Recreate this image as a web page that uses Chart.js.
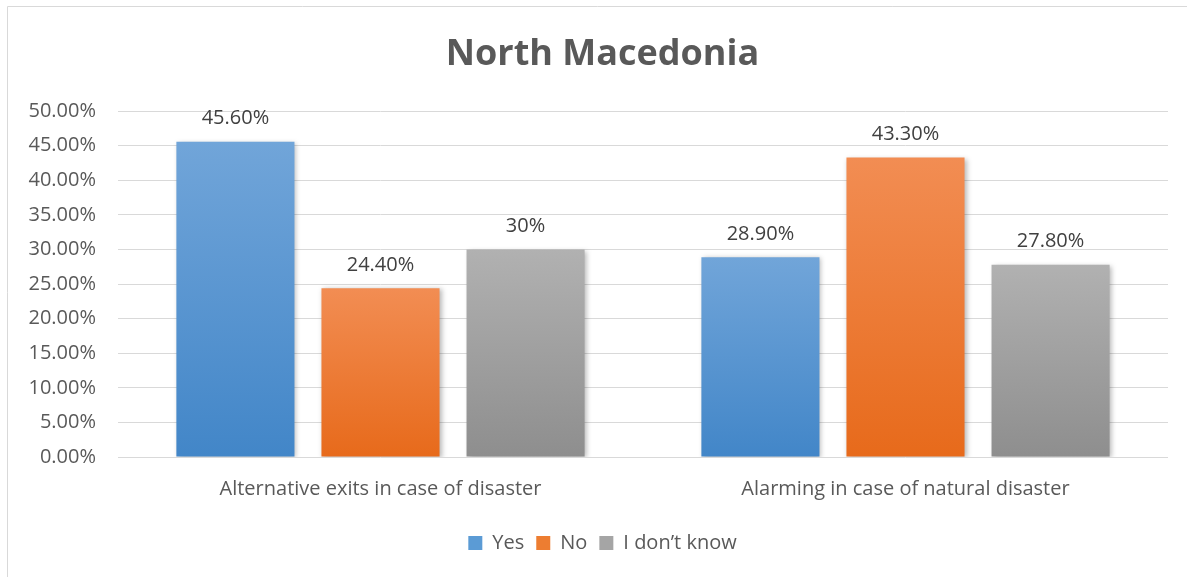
<!DOCTYPE html>
<html>
<head>
<meta charset="utf-8">
<script src="https://cdn.jsdelivr.net/npm/chart.js@4.4.1/dist/chart.umd.min.js"></script>
<style>
  html, body { margin: 0; padding: 0; background: #fff; }
  #wrap { position: relative; width: 1187px; height: 577px; }
</style>
</head>
<body>
<div id="wrap"><canvas id="chart"></canvas></div>
<script>
const categories = ["Alternative exits in case of disaster", "Alarming in case of natural disaster"];
const seriesNames = ["Yes", "No", "I don\u2019t know"];
const yesValues = [45.6, 28.9];
const noValues = [24.4, 43.3];
const dontKnowValues = [30, 27.8];
const yesLabels = ["45.60%", "28.90%"];
const noLabels = ["24.40%", "43.30%"];
const dontKnowLabels = ["30%", "27.80%"];
const yTicks = [0, 5, 10, 15, 20, 25, 30, 35, 40, 45, 50];

const FONT = "'Open Sans', sans-serif";
const TEXT = "#595959";
const SIZE = 20;

// top / bottom colours of each series' gradient, plus flat legend colour
const fills = [
  { top: "#71a5d9", bottom: "#4286c8", flat: "#5b9bd5" },
  { top: "#f28d53", bottom: "#e76a1b", flat: "#ed7d31" },
  { top: "#b1b1b1", bottom: "#8e8e8e", flat: "#a5a5a5" },
];

function barGradient(i) {
  return (ctx) => {
    const chart = ctx.chart;
    const area = chart.chartArea;
    if (!area || ctx.type !== "data") return fills[i].flat;
    const y = chart.scales.y;
    const top = y.getPixelForValue(ctx.raw);
    const bottom = y.getPixelForValue(0);
    const g = chart.ctx.createLinearGradient(0, top, 0, bottom);
    g.addColorStop(0, fills[i].top);
    g.addColorStop(1, fills[i].bottom);
    return g;
  };
}

const labelSets = [yesLabels, noLabels, dontKnowLabels];

// chart frame: left and top edges only are visible in the picture
const frame = {
  id: "frame",
  afterDraw(chart) {
    const c = chart.ctx;
    c.save();
    c.strokeStyle = "#d9d9d9";
    c.lineWidth = 1;
    c.beginPath();
    c.moveTo(7.5, 580);
    c.lineTo(7.5, 6.5);
    c.lineTo(1190, 6.5);
    c.stroke();
    c.restore();
  },
};

const barShadow = {
  id: "barShadow",
  beforeDatasetsDraw(chart) {
    const c = chart.ctx;
    c.save();
    c.shadowColor = "rgba(0,0,0,0.28)";
    c.shadowBlur = 5;
    c.shadowOffsetX = 2;
    c.shadowOffsetY = 1;
  },
  afterDatasetsDraw(chart) {
    chart.ctx.restore();
  },
};

const valueLabels = {
  id: "valueLabels",
  afterDatasetsDraw(chart) {
    const c = chart.ctx;
    c.save();
    c.font = SIZE + "px " + FONT;
    c.fillStyle = "#404040";
    c.textAlign = "center";
    c.textBaseline = "bottom";
    chart.data.datasets.forEach((ds, i) => {
      chart.getDatasetMeta(i).data.forEach((bar, j) => {
        c.fillText(labelSets[i][j], bar.x, bar.y - 13);
      });
    });
    c.restore();
  },
};

new Chart(document.getElementById("chart"), {
  type: "bar",
  data: {
    labels: categories,
    datasets: [
      { label: seriesNames[0], data: yesValues, backgroundColor: barGradient(0) },
      { label: seriesNames[1], data: noValues, backgroundColor: barGradient(1) },
      { label: seriesNames[2], data: dontKnowValues, backgroundColor: barGradient(2) },
    ],
  },
  options: {
    responsive: true,
    maintainAspectRatio: false,
    animation: false,
    categoryPercentage: 0.829,
    barPercentage: 0.814,
    layout: { padding: { left: 18, right: 0, top: 0, bottom: 14 } },
    plugins: {
      title: {
        display: true,
        text: "North Macedonia",
        color: TEXT,
        font: { family: FONT, size: 36, weight: "bold", lineHeight: 1.2 },
        padding: { top: 33, bottom: 35 },
      },
      legend: {
        position: "bottom",
        labels: {
          color: TEXT,
          font: { family: FONT, size: SIZE },
          boxWidth: 14,
          boxHeight: 14,
          padding: 12,
          generateLabels(chart) {
            return chart.data.datasets.map((ds, i) => ({
              text: ds.label,
              fillStyle: fills[i].flat,
              strokeStyle: fills[i].flat,
              lineWidth: 0,
              fontColor: TEXT,
              datasetIndex: i,
            }));
          },
        },
      },
      tooltip: { enabled: false },
    },
    scales: {
      x: {
        grid: { display: false, drawTicks: false },
        border: { display: false },
        ticks: { color: TEXT, font: { family: FONT, size: SIZE }, padding: 20 },
        afterFit(scale) { scale.height = 64; },
      },
      y: {
        min: 0,
        max: 50,
        afterBuildTicks(scale) { scale.ticks = yTicks.map((v) => ({ value: v })); },
        grid: { color: "#d9d9d9", lineWidth: 1, drawTicks: false },
        border: { display: false },
        ticks: {
          color: TEXT,
          font: { family: FONT, size: SIZE },
          padding: 22,
          callback: (v) => v.toFixed(2) + "%",
        },
        afterFit(scale) { scale.width = 100; },
      },
      // empty strip on the right so the gridlines stop short of the edge
      yRight: {
        position: "right",
        grid: { display: false, drawTicks: false },
        border: { display: false },
        ticks: { display: false },
        afterFit(scale) { scale.width = 19; },
      },
    },
  },
  plugins: [frame, barShadow, valueLabels],
});
</script>
</body>
</html>
